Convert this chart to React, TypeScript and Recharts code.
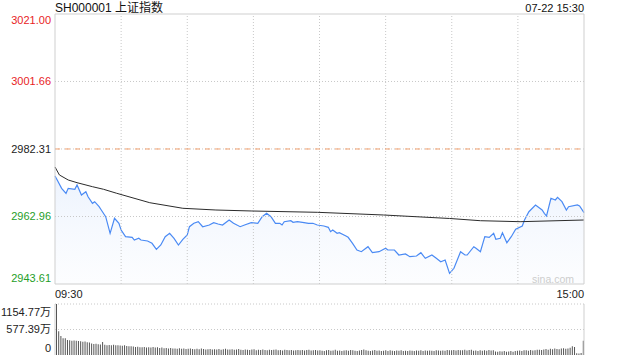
import React from 'react'
import { ComposedChart, BarChart, Area, Line, Bar, XAxis, YAxis, ReferenceLine } from 'recharts'

const FONT = '"Liberation Sans", Arial, "Noto Sans CJK SC", sans-serif'
const RED = '#e8231f'
const GREEN = '#1f9e2a'
const DARK = '#222'
const BORDER = '#cfcfcf'
const GRID = '#c8c8c8'

const PREV_CLOSE = 2982.31
const priceTicks = [3021.0, 3001.66, 2982.31, 2962.96, 2943.61]
const pctLabels = ['+1.30%', '+0.65%', '0.00%', '-0.65%', '-1.30%']
const timeLabels = ['09:30', '15:00']
const gridMinutes = [30, 60, 90, 120, 150, 180, 210]
const volumeTicks = [0, 577.39, 1154.77]
const volumeTickLabels = ['0', '577.39万', '1154.77万']

// minute index (0 = 09:30, 240 = 15:00) and price
const priceMinutes = [
  0, 1, 3, 5, 6, 9, 10, 12, 14, 15, 17, 18, 20, 21, 23, 25, 27, 29, 30, 32,
  35, 36, 38, 39, 42, 44, 46, 48, 50, 52, 54, 56, 58, 60, 61, 63, 65, 67, 70, 72,
  74, 76, 79, 81, 84, 86, 89, 92, 94, 96, 98, 100, 102, 103, 104, 107, 108, 110, 113, 115,
  117, 119, 122, 124, 125, 126, 128, 129, 132, 133, 135, 137, 139, 142, 144, 147, 150, 151, 154, 156,
  159, 161, 164, 166, 168, 171, 173, 175, 177, 179, 181, 184, 186, 187, 190, 191, 193, 195, 197, 199,
  200, 202, 203, 205, 207, 209, 212, 213, 215, 218, 221, 222, 223, 225, 227, 228, 230, 232, 233, 237,
  238, 240,
]
const priceValues = [
  2974.57, 2973.42, 2971.04, 2969.61, 2971.04, 2970.76, 2971.99, 2969.12, 2970.07, 2968.63,
  2966.74, 2967.2, 2965.77, 2964.82, 2962.9, 2958.14, 2962.44, 2961.01, 2959.09, 2957.17,
  2956.99, 2956.22, 2956.71, 2956.22, 2955.93, 2955.27, 2953.55, 2954.79, 2957.17, 2958.14,
  2956.71, 2954.79, 2956.42, 2957.65, 2960.03, 2961.01, 2961.47, 2960.03, 2960.52, 2961.18,
  2960.81, 2960.52, 2961.95, 2961.01, 2960.03, 2960.52, 2961.18, 2961.01, 2962.9, 2963.88,
  2962.9, 2961.01, 2961.01, 2960.52, 2961.47, 2961.75, 2961.3, 2961.47, 2961.18, 2961.01,
  2961.01, 2960.52, 2960.23, 2959.86, 2958.6, 2959.09, 2958.14, 2958.31, 2957.37, 2956.99,
  2955.27, 2953.35, 2952.87, 2954.3, 2952.58, 2952.87, 2953.84, 2953.35, 2953.35, 2951.92,
  2952.21, 2951.43, 2951.63, 2952.58, 2950.97, 2951.92, 2950.97, 2950.0, 2950.49, 2946.67,
  2948.11, 2952.87, 2951.92, 2951.92, 2954.3, 2953.84, 2952.87, 2957.17, 2956.99, 2958.14,
  2956.42, 2956.71, 2958.31, 2955.45, 2957.17, 2959.29, 2960.23, 2961.95, 2964.33, 2966.26,
  2964.82, 2963.88, 2963.1, 2968.18, 2967.69, 2968.46, 2967.2, 2964.82, 2965.77, 2966.26,
  2965.97, 2964.05,
]

const avgMinutes = [0, 2, 6, 10, 17, 22, 28, 43, 58, 73, 89, 119, 149, 179, 193, 211, 240]
const avgValues = [
  2977.15, 2974.86, 2973.42, 2972.65, 2971.5, 2970.76, 2969.61, 2966.91, 2965.31, 2964.82,
  2964.54, 2964.16, 2963.39, 2962.39, 2961.75, 2961.47, 2961.95,
]

// volume per minute, in 万
const volumes = [
  1154.77, 540, 428, 377, 377, 340, 333, 325, 330, 320,
  318, 310, 300, 305, 290, 281, 260, 248, 255, 244,
  240, 296, 230, 222, 228, 222, 230, 218, 222, 215,
  212, 220, 205, 200, 196, 192, 180, 185, 178, 175,
  182, 172, 178, 168, 180, 170, 174, 160, 168, 155,
  160, 150, 156, 145, 150, 142, 155, 140, 146, 138,
  144, 148, 136, 132, 140, 130, 145, 134, 126, 132,
  138, 125, 130, 122, 134, 120, 128, 140, 122, 126,
  130, 118, 124, 136, 120, 112, 126, 118, 115, 124,
  128, 110, 120, 112, 124, 115, 108, 120, 112, 118,
  126, 110, 115, 104, 118, 112, 108, 116, 102, 110,
  114, 106, 112, 100, 116, 120, 104, 108, 114, 102,
  108, 98, 92, 106, 112, 95, 100, 118, 96, 104,
  90, 102, 108, 98, 114, 106, 94, 90, 102, 112,
  122, 106, 98, 92, 104, 115, 94, 102, 90, 98,
  106, 92, 110, 96, 88, 102, 94, 108, 90, 98,
  92, 104, 96, 88, 102, 94, 106, 92, 100, 96,
  104, 98, 90, 110, 100, 94, 104, 98, 112, 106,
  108, 114, 100, 116, 106, 110, 118, 104, 112, 120,
  96, 104, 92, 110, 98, 106, 95, 112, 100, 108,
  80, 72, 85, 78, 90, 76, 82, 88, 75, 92,
  95, 100, 88, 105, 110, 98, 115, 102, 108, 120,
  118, 112, 125, 135, 120, 140, 128, 150, 138, 132,
  145, 155, 140, 150, 165, 200, 180, 40, 35, 45,
  320,
]

type Row = { t: number; price?: number; avg?: number }
const rowMap = new Map<number, Row>()
priceMinutes.forEach((t, i) => {
  rowMap.set(t, { ...(rowMap.get(t) || { t }), price: priceValues[i] })
})
avgMinutes.forEach((t, i) => {
  rowMap.set(t, { ...(rowMap.get(t) || { t }), avg: avgValues[i] })
})
const lineData = Array.from(rowMap.values()).sort((a, b) => a.t - b.t)
const volumeData = volumes.map((v, i) => ({ i, v }))

function edgeOffset(v: number) {
  if (v === priceTicks[0]) return 6
  if (v === priceTicks[priceTicks.length - 1]) return -6
  return 0
}

function priceColor(v: number) {
  if (v > PREV_CLOSE) return RED
  if (v < PREV_CLOSE) return GREEN
  return DARK
}

function LeftPriceTick(props: any) {
  const { x, y, payload } = props
  const v = payload.value
  return (
    <text x={x} y={y + edgeOffset(v)} textAnchor="end" dominantBaseline="central" fill={priceColor(v)} fontSize={11} fontFamily={FONT}>
      {v.toFixed(2)}
    </text>
  )
}

function RightPctTick(props: any) {
  const { x, y, payload } = props
  const v = payload.value
  const label = pctLabels[priceTicks.indexOf(v)]
  return (
    <text x={x} y={y + edgeOffset(v)} textAnchor="start" dominantBaseline="central" fill={priceColor(v)} fontSize={11} fontFamily={FONT}>
      {label}
    </text>
  )
}

function TimeTick(props: any) {
  const { x, y, payload } = props
  const first = payload.value === 0
  return (
    <text x={x} y={y + 10} textAnchor={first ? 'start' : 'end'} dominantBaseline="central" fill={DARK} fontSize={11} fontFamily={FONT}>
      {first ? timeLabels[0] : timeLabels[1]}
    </text>
  )
}

function VolumeTick(props: any) {
  const { x, y, payload } = props
  const idx = volumeTicks.indexOf(payload.value)
  const dy = idx === 2 ? 8 : idx === 0 ? -7 : 0
  return (
    <text x={x} y={y + dy} textAnchor="end" dominantBaseline="central" fill={DARK} fontSize={11} fontFamily={FONT}>
      {volumeTickLabels[idx]}
    </text>
  )
}

export default function App() {
  return (
    <div style={{ position: 'absolute', left: 0, top: 0, width: 640, height: 360, background: '#fff', fontFamily: FONT }}>
      <div style={{ position: 'absolute', left: 55, top: 1, fontSize: 12, lineHeight: '14px', color: '#111', whiteSpace: 'nowrap' }}>
        SH000001 上证指数
      </div>
      <div style={{ position: 'absolute', right: 56, top: 1, fontSize: 11, lineHeight: '14px', color: '#111', whiteSpace: 'nowrap' }}>
        07-22 15:30
      </div>

      <div style={{ position: 'absolute', left: 0, top: 0 }}>
        <ComposedChart width={640} height={300} data={lineData} margin={{ top: 14, right: 0, bottom: 0, left: 0 }}>
          <defs>
            <linearGradient id="priceFill" x1="0" y1="0" x2="0" y2="1">
              <stop offset="0%" stopColor="#d6e4fb" stopOpacity={0.75} />
              <stop offset="100%" stopColor="#f3f7fe" stopOpacity={0.4} />
            </linearGradient>
          </defs>
          <XAxis
            dataKey="t"
            type="number"
            domain={[0, 240]}
            ticks={[0, 240]}
            interval={0}
            tick={<TimeTick />}
            tickLine={false}
            tickSize={0}
            tickMargin={0}
            axisLine={{ stroke: BORDER }}
            height={16}
          />
          <YAxis
            yAxisId="p"
            type="number"
            domain={[2943.61, 3021.0]}
            ticks={priceTicks}
            interval={0}
            tick={<LeftPriceTick />}
            tickLine={false}
            tickSize={0}
            tickMargin={4}
            axisLine={{ stroke: BORDER }}
            width={55}
          />
          <YAxis
            yAxisId="r"
            orientation="right"
            type="number"
            domain={[2943.61, 3021.0]}
            ticks={priceTicks}
            interval={0}
            tick={<RightPctTick />}
            tickLine={false}
            tickSize={0}
            tickMargin={6}
            axisLine={{ stroke: BORDER }}
            width={56}
          />
          {gridMinutes.map((m) => (
            <ReferenceLine key={m} yAxisId="p" x={m} stroke={GRID} strokeDasharray="1 2" />
          ))}
          <ReferenceLine yAxisId="p" y={3001.66} stroke={GRID} strokeDasharray="1 2" />
          <ReferenceLine yAxisId="p" y={2962.96} stroke={GRID} strokeDasharray="1 2" />
          <ReferenceLine yAxisId="p" y={2982.31} stroke={GRID} strokeDasharray="1 2" />
          <ReferenceLine yAxisId="p" y={2982.31} stroke="#f3a06e" strokeDasharray="5 5" />
          <ReferenceLine yAxisId="p" y={3021.0} stroke={BORDER} />
          <Area
            yAxisId="p"
            type="linear"
            dataKey="price"
            stroke="#4a8af4"
            strokeWidth={1.2}
            fill="url(#priceFill)"
            baseValue="dataMin"
            connectNulls
            dot={false}
            activeDot={false}
            isAnimationActive={false}
          />
          <Line
            yAxisId="p"
            type="linear"
            dataKey="avg"
            stroke="#2b2b2b"
            strokeWidth={1}
            connectNulls
            dot={false}
            activeDot={false}
            isAnimationActive={false}
          />
        </ComposedChart>
      </div>

      <div style={{ position: 'absolute', left: 532, top: 273, fontSize: 10.5, lineHeight: '12px', color: '#cdcdcd', whiteSpace: 'nowrap' }}>
        sina.com
      </div>

      <div style={{ position: 'absolute', left: 0, top: 300 }}>
        <BarChart width={640} height={60} data={volumeData} margin={{ top: 4, right: 0, bottom: 5, left: 0 }} barCategoryGap={0}>
          <XAxis dataKey="i" hide />
          <YAxis
            yAxisId="v"
            type="number"
            domain={[0, 1154.77]}
            ticks={volumeTicks}
            interval={0}
            tick={<VolumeTick />}
            tickLine={false}
            tickSize={0}
            tickMargin={4}
            axisLine={{ stroke: BORDER }}
            width={55}
          />
          <YAxis yAxisId="vr" orientation="right" type="number" domain={[0, 1154.77]} tick={false} tickLine={false} axisLine={{ stroke: BORDER }} width={56} />
          <ReferenceLine yAxisId="v" y={1154.77} stroke={GRID} strokeDasharray="1 2" />
          <ReferenceLine yAxisId="v" y={577.39} stroke={GRID} strokeDasharray="1 2" />
          <Bar yAxisId="v" dataKey="v" fill="#555" barSize={1} isAnimationActive={false} />
        </BarChart>
      </div>
    </div>
  )
}
